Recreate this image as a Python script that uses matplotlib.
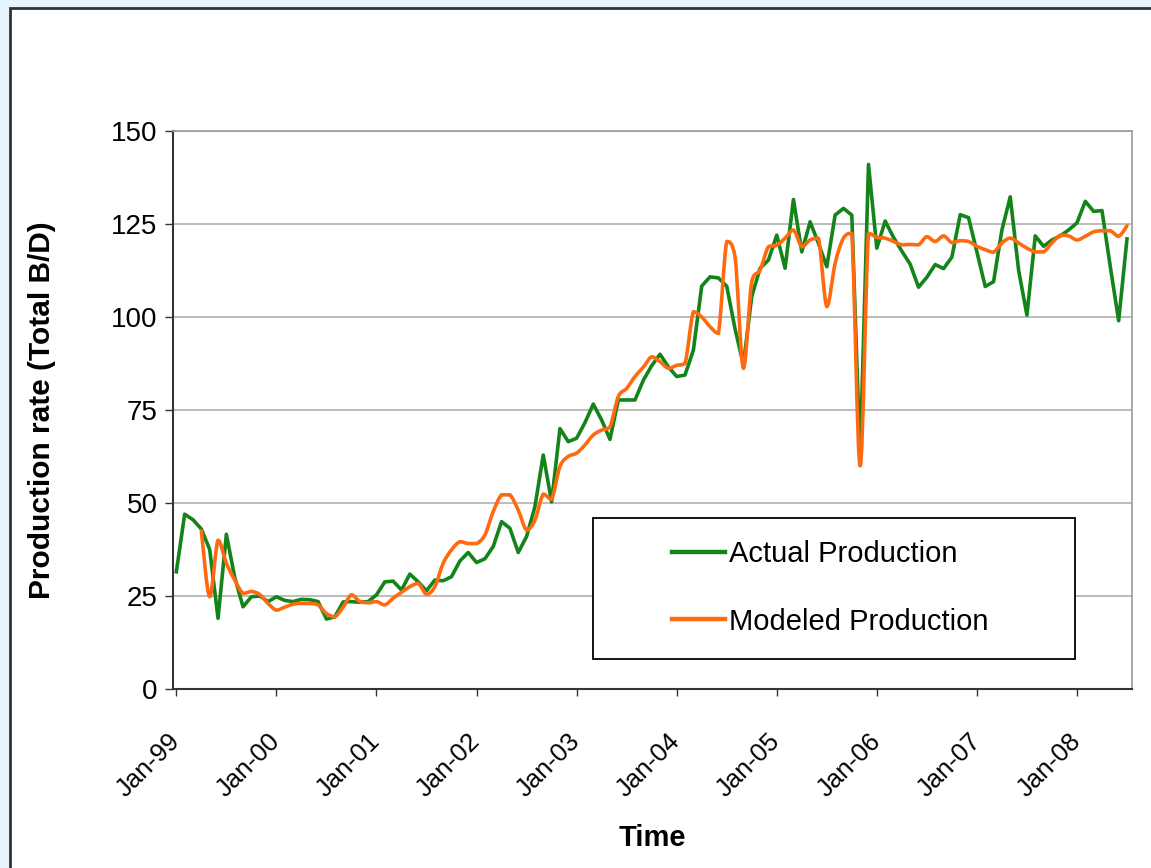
import numpy as np
import matplotlib
matplotlib.use("Agg")
import matplotlib.pyplot as plt
from matplotlib.path import Path
from matplotlib.patches import PathPatch, Rectangle
from matplotlib.lines import Line2D

plt.rcParams['font.family'] = ['Liberation Sans', 'DejaVu Sans']

# monthly rates, Jan-99 .. Jul-08
actual = [
    31.5, 47, 45.5, 43, 37.5, 19, 41.6, 30, 22.1, 24.8, 25, 23.5,
    24.8, 23.8, 23.5, 24.1, 24, 23.5, 18.8, 19.4, 23.4, 23.5, 23.3, 23.5,
    25.3, 28.8, 29, 26.6, 30.9, 28.8, 26.4, 29.3, 29.1, 30.2, 34.4, 36.7,
    34, 35, 38.3, 45, 43.2, 36.7, 41, 49, 62.9, 50.3, 70, 66.5,
    67.4, 71.6, 76.6, 72.3, 67.1, 77.7, 77.7, 77.7, 83, 86.9, 90, 86.6,
    84, 84.4, 91.1, 108.3, 110.8, 110.5, 108.3, 96.8, 87.2, 105.5, 113.1, 115.3,
    122, 113.1, 131.6, 117.5, 125.6, 119.8, 113.5, 127.4, 129.2, 127.4, 62, 141,
    118.5, 125.8, 121.4, 117.7, 114.2, 108, 110.7, 114.1, 113, 116.1, 127.5, 126.7,
    117.5, 108.2, 109.5, 123.4, 132.3, 112.6, 100.5, 121.8, 119, 120.7, 121.8, 123.4,
    125.3, 131.1, 128.4, 128.6, 113.5, 99, 121,
]
modeled = [
    None, None, None, 42.5, 24.8, 40, 33.8, 29.3, 25.7, 26.2, 25.4, 23,
    21.2, 22, 22.8, 23, 23, 22.6, 20.3, 19.4, 22, 25.3, 23.5, 23.2,
    23.5, 22.6, 24.4, 26, 27.5, 28.4, 25.5, 27.5, 33.8, 37.4, 39.6, 39.1,
    39.1, 41.4, 47.7, 52.2, 52.2, 48.1, 42.7, 45.4, 52.4, 51, 59.8, 62.5,
    63.4, 65.6, 68.3, 69.6, 70.5, 78.6, 80.8, 84, 86.5, 89.3, 88, 86.2,
    87, 87.5, 101.4, 100, 97.4, 95.6, 120.3, 116.2, 86.2, 109.5, 112.6, 118.9,
    119.3, 121.2, 123.4, 118.9, 120.7, 121.2, 102.8, 114.4, 121.2, 122.5, 60, 122.5,
    121.4, 121.2, 120.3, 119.4, 119.5, 119.4, 121.6, 120.3, 121.8, 120, 120.5, 120.3,
    119, 118.1, 117.4, 119.9, 121.2, 119.9, 118.5, 117.5, 117.5, 119.9, 122, 121.8,
    120.7, 121.7, 122.9, 123.2, 123.2, 121.7, 124.5,
]
year_labels = ["Jan-99", "Jan-00", "Jan-01", "Jan-02", "Jan-03",
               "Jan-04", "Jan-05", "Jan-06", "Jan-07", "Jan-08"]
y_ticks = [0, 25, 50, 75, 100, 125, 150]

GREEN = '#13841a'
ORANGE = '#ff6a10'


def smooth_path(x, y):
    # Bezier path through every point; handles are kept inside each segment's
    # y-range so the curve never overshoots the data
    pts = np.column_stack([x, y])
    verts = [pts[0]]
    codes = [Path.MOVETO]
    n = len(pts)
    for i in range(n - 1):
        p0 = pts[max(i - 1, 0)]
        p1 = pts[i]
        p2 = pts[i + 1]
        p3 = pts[min(i + 2, n - 1)]
        c1 = p1 + (p2 - p0) / 6.0
        c2 = p2 - (p3 - p1) / 6.0
        lo, hi = min(p1[1], p2[1]), max(p1[1], p2[1])
        c1[1] = np.clip(c1[1], lo, hi)
        c2[1] = np.clip(c2[1], lo, hi)
        verts += [c1, c2, p2]
        codes += [Path.CURVE4] * 3
    return Path(verts, codes)


fig = plt.figure(figsize=(11.51, 8.68), dpi=100)
fig.patch.set_facecolor('#e8f4fd')

# white panel with dark frame
W, H = 1151.0, 868.0
panel = Rectangle((10 / W, -0.05), 1.1, (H - 8) / H + 0.05, transform=fig.transFigure,
                  facecolor='white', edgecolor='#333333', linewidth=2, zorder=-10)
fig.patches.append(panel)

ax = fig.add_axes([173 / W, 1 - 689 / H, (1132 - 173) / W, (689 - 131) / H])
ax.set_facecolor('white')

months = np.arange(len(actual))
ax.plot(months, actual, color=GREEN, linewidth=2.6, solid_joinstyle='round', zorder=4)

m_idx = np.array([i for i, v in enumerate(modeled) if v is not None], dtype=float)
m_val = np.array([v for v in modeled if v is not None], dtype=float)
ax.add_patch(PathPatch(smooth_path(m_idx, m_val), facecolor='none', edgecolor=ORANGE,
                       linewidth=2.6, capstyle='round', joinstyle='round', zorder=4))

ax.set_xlim(-0.4, 114.6)
ax.set_ylim(0, 150)
ax.set_yticks(y_ticks)
ax.set_xticks(np.arange(len(year_labels)) * 12)
ax.set_xticklabels(year_labels, rotation=45, ha='right', va='center',
                   rotation_mode='anchor')
ax.tick_params(axis='y', labelsize=20, length=6, width=1, color='#333333', pad=5)
ax.tick_params(axis='x', labelsize=18.5, length=5, width=1, color='#333333', pad=30)

ax.grid(axis='y', color='#b0b0b0', linewidth=1.2, zorder=1)
ax.set_axisbelow(True)
for side in ('left', 'bottom'):
    ax.spines[side].set_color('#333333')
    ax.spines[side].set_linewidth(1.5)
for side in ('top', 'right'):
    ax.spines[side].set_color('#9a9a9a')
    ax.spines[side].set_linewidth(1.2)

ax.set_ylabel('Production rate (Total B/D)', fontsize=21.5, fontweight='bold', labelpad=40)
ax.set_xlabel('Time', fontsize=21, fontweight='bold', labelpad=16)

# legend box
x0, x1 = (593 - 173) / 959, (1075 - 173) / 959
y0, y1 = (689 - 659) / 558, (689 - 518) / 558
ax.add_patch(Rectangle((x0, y0), x1 - x0, y1 - y0, transform=ax.transAxes,
                       facecolor='white', edgecolor='black', linewidth=1.3, zorder=5))
handles = [Line2D([], [], color=GREEN, linewidth=3.2),
           Line2D([], [], color=ORANGE, linewidth=3.2)]
leg = ax.legend(handles, ['Actual Production', 'Modeled Production'],
                loc='center left', bbox_to_anchor=((672 - 173) / 959, (689 - 588) / 558),
                frameon=False, fontsize=21, handlelength=1.8, handletextpad=0.15,
                labelspacing=1.35, borderpad=0, borderaxespad=0)
leg.set_zorder(6)

fig.savefig('out.png', dpi=100, facecolor=fig.get_facecolor())
